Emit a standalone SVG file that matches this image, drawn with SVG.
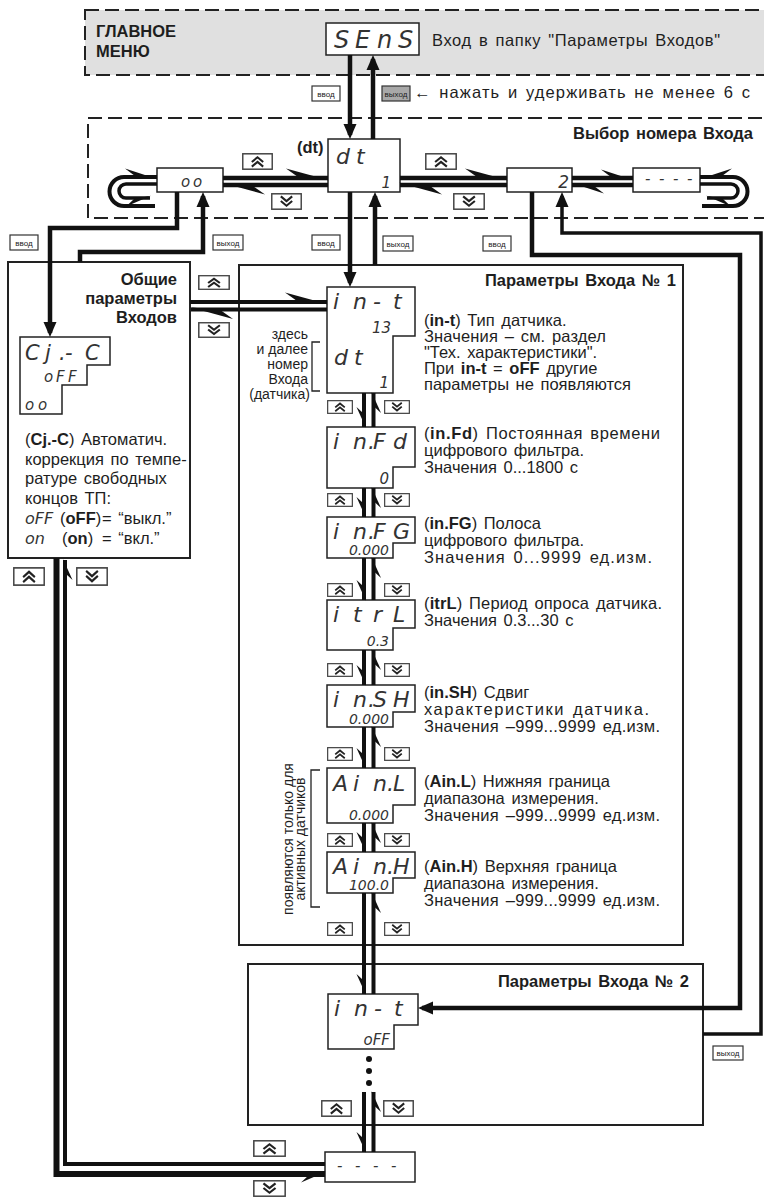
<svg xmlns="http://www.w3.org/2000/svg" width="764" height="1198" viewBox="0 0 764 1198">
<defs>
<style>
.t{font-family:"Liberation Sans",Arial,sans-serif;font-size:16.5px;word-spacing:2px;fill:#1e1e1e}
.s{font-family:"Liberation Sans",Arial,sans-serif;font-size:14px;fill:#1e1e1e}
.b{font-weight:bold}
.sg{font-family:"DejaVu Sans",sans-serif;font-style:italic;font-weight:300;fill:#333}
.frame{fill:none;stroke:#222;stroke-width:2}
.disp{fill:#fff;stroke:#222;stroke-width:1.5}
.dash{stroke:#222;stroke-width:2;stroke-dasharray:14 6}
.tk{fill:none;stroke:#111;stroke-width:4.5}
.md{fill:none;stroke:#111;stroke-width:3.5}
.hp{fill:none;stroke:#111;stroke-width:4.5}
.vl{fill:none;stroke:#111;stroke-width:4}
.key rect{fill:#fff;stroke:#333;stroke-width:1.2}
.key text{font-family:"Liberation Sans",Arial,sans-serif;font-size:8px;fill:#222;text-anchor:middle}
.br{fill:none;stroke:#222;stroke-width:1.3}
</style>
<marker id="ar" markerUnits="userSpaceOnUse" orient="auto" markerWidth="30" markerHeight="30" viewBox="-15 -15 30 30" refX="0" refY="0" overflow="visible">
<path d="M4,0 L-11,-6.5 L-11,6.5 Z" fill="#111"/>
</marker>
<marker id="hL" markerUnits="userSpaceOnUse" orient="auto" markerWidth="60" markerHeight="30" viewBox="-50 -15 60 30" refX="0" refY="0" overflow="visible">
<path d="M1,2.2 L-42,-9.5 L-30,-1 Z" fill="#111"/>
</marker>
<marker id="hLm" markerUnits="userSpaceOnUse" orient="auto" markerWidth="60" markerHeight="30" viewBox="-50 -15 60 30" refX="0" refY="0" overflow="visible">
<path d="M1,2.2 L-32,-8.5 L-22,-1 Z" fill="#111"/>
</marker>
<marker id="hRl" markerUnits="userSpaceOnUse" orient="auto" markerWidth="60" markerHeight="30" viewBox="-50 -15 60 30" refX="0" refY="0" overflow="visible">
<path d="M1,-2.2 L-24,8.5 L-16,1 Z" fill="#111"/>
</marker>
<marker id="hRs" markerUnits="userSpaceOnUse" orient="auto" markerWidth="40" markerHeight="30" viewBox="-30 -15 40 30" refX="0" refY="0" overflow="visible">
<path d="M1,-2 L-20,7.5 L-14,1 Z" fill="#111"/>
</marker>
<symbol id="bu" viewBox="0 0 30 16" preserveAspectRatio="none">
<rect x="0.75" y="0.75" width="28.5" height="14.5" fill="#fff" stroke="#444" stroke-width="1.4"/>
<path d="M9.5 8.5 L15 4 L20.5 8.5 M9.5 12.8 L15 8.3 L20.5 12.8" fill="none" stroke="#222" stroke-width="2"/>
</symbol>
<symbol id="bd" viewBox="0 0 30 16" preserveAspectRatio="none">
<rect x="0.75" y="0.75" width="28.5" height="14.5" fill="#fff" stroke="#444" stroke-width="1.4"/>
<path d="M9.5 3.2 L15 7.7 L20.5 3.2 M9.5 7.5 L15 12 L20.5 7.5" fill="none" stroke="#222" stroke-width="2"/>
</symbol>
</defs>
<rect width="764" height="1198" fill="#fff"/>

<!-- main menu band -->
<g id="main-menu">
<rect x="85" y="10" width="700" height="65" fill="#e0e0e0" class="dash"/>
<text class="t b" x="96" y="37" font-size="16">ГЛАВНОЕ</text>
<text class="t b" x="96" y="57" font-size="16">МЕНЮ</text>
</g>
<g id="node-sens">
<rect class="disp" x="326" y="23" width="93" height="32"/>
<text class="sg" x="334 355 377 398" y="48" font-size="24">SEnS</text>
<text class="t" x="432" y="46" textLength="288">Вход в папку "Параметры Входов"</text>
</g>

<!-- input selection band -->
<g id="select-band">
<rect x="88" y="118" width="700" height="100" fill="none" class="dash"/>
<text class="t b" x="753" y="139" text-anchor="end">Выбор номера Входа</text>
</g>
<g id="node-oo">
<rect class="disp" x="157" y="168" width="66" height="24"/>
<text class="sg" x="181 193" y="187" font-size="15">oo</text>
</g>
<g id="node-dt">
<text class="t b" x="297" y="153" font-size="15">(dt)</text>
<rect class="disp" x="328" y="139" width="72" height="53"/>
<text class="sg" x="336 356" y="164" font-size="22">dt</text>
<text class="sg" x="391" y="188" font-size="15" text-anchor="end">1</text>
</g>
<g id="node-2">
<rect class="disp" x="507" y="168" width="65" height="24"/>
<text class="sg" x="569" y="188" font-size="17" text-anchor="end">2</text>
</g>
<g id="node-last">
<rect class="disp" x="633" y="168" width="67" height="24"/>
<text class="sg" x="645 659 673 687" y="184" font-size="15" font-weight="bold">----</text>
</g>

<!-- common parameters -->
<g id="node-common">
<rect class="frame" x="8" y="262" width="182" height="296"/>
<text class="t b" x="177" y="285" text-anchor="end">Общие</text>
<text class="t b" x="177" y="304" text-anchor="end">параметры</text>
<text class="t b" x="177" y="323" text-anchor="end">Входов</text>
<path class="disp" d="M20 337 H110 V365 H87 V385 H62 V414 H20 Z"/>
<text class="sg" x="25 45 59 65 85" y="360" font-size="21">Cj.-C</text>
<text class="sg" x="44 56 68" y="382" font-size="15">oFF</text>
<text class="sg" x="25 38" y="410" font-size="15">oo</text>
<text class="t" x="25" y="445">(<tspan class="b">Cj.-C</tspan>) Автоматич.</text>
<text class="t" x="25" y="465">коррекция по темпе-</text>
<text class="t" x="25" y="484">ратуре свободных</text>
<text class="t" x="25" y="504">концов ТП:</text>
<text class="sg" x="25" y="524" font-size="16">oFF</text>
<text class="t" x="60" y="524">(<tspan class="b">oFF</tspan>)</text>
<text class="t" x="102" y="524">= “выкл.”</text>
<text class="sg" x="25" y="544" font-size="16">on</text>
<text class="t" x="62" y="544">(<tspan class="b">on</tspan>)</text>
<text class="t" x="102" y="544">= “вкл.”</text>
</g>

<!-- parameters of input 1 -->
<g id="group-input1">
<rect class="frame" x="239" y="265" width="444" height="680"/>
<text class="t b" x="676" y="286" text-anchor="end">Параметры Входа № 1</text>
<path class="br" d="M320 342 H312 V391 H320"/>
<text class="s" x="308" y="339" text-anchor="end">здесь</text>
<text class="s" x="308" y="354" text-anchor="end">и далее</text>
<text class="s" x="308" y="369" text-anchor="end">номер</text>
<text class="s" x="308" y="384" text-anchor="end">Входа</text>
<text class="s" x="310" y="399" text-anchor="end">(датчика)</text>
<path class="br" d="M320 770 H311 V907 H320"/>
<text class="s" font-size="11.5" transform="translate(293 839) rotate(-90)" text-anchor="middle">появляются только для</text>
<text class="s" font-size="11.5" transform="translate(305 839) rotate(-90)" text-anchor="middle">активных датчиков</text>
</g>
<g id="node-in-t-1">
<path class="disp" d="M327 287 H415 V336 H393 V393 H327 Z"/>
<text class="sg" x="333 353 373 393" y="309" font-size="22">in-t</text>
<text class="sg" x="391" y="333" font-size="15" text-anchor="end">13</text>
<text class="sg" x="334 354" y="365" font-size="22">dt</text>
<text class="sg" x="389" y="388" font-size="15" text-anchor="end">1</text>
<text class="t" x="424" y="326">(<tspan class="b">in-t</tspan>) Тип датчика.</text>
<text class="t" x="424" y="342" textLength="182">Значения – см. раздел</text>
<text class="t" x="424" y="358">"Тех. характеристики".</text>
<text class="t" x="424" y="374">При <tspan class="b">in-t</tspan> = <tspan class="b">oFF</tspan> другие</text>
<text class="t" x="424" y="390">параметры не появляются</text>
</g>
<g id="node-in-fd">
<path class="disp" d="M327 427 H415 V467 H393 V488 H327 Z"/>
<text class="sg" x="333 353 368 373 393" y="449" font-size="22">in.Fd</text>
<text class="sg" x="389" y="484" font-size="15" text-anchor="end">0</text>
<text class="t" x="424" y="439" textLength="236">(<tspan class="b">in.Fd</tspan>) Постоянная времени</text>
<text class="t" x="424" y="456">цифрового фильтра.</text>
<text class="t" x="424" y="473">Значения 0...1800 с</text>
</g>
<g id="node-in-fg">
<path class="disp" d="M327 517 H415 V543 H393 V558 H327 Z"/>
<text class="sg" x="333 353 368 373 393" y="539" font-size="22">in.FG</text>
<text class="sg" x="389" y="555" font-size="14" text-anchor="end">0.000</text>
<text class="t" x="424" y="529">(<tspan class="b">in.FG</tspan>) Полоса</text>
<text class="t" x="424" y="546">цифрового фильтра.</text>
<text class="t" x="424" y="563" textLength="228">Значения 0...9999 ед.изм.</text>
</g>
<g id="node-itrl">
<path class="disp" d="M327 600 H415 V628 H393 V650 H327 Z"/>
<text class="sg" x="333 353 373 393" y="622" font-size="22">itrL</text>
<text class="sg" x="389" y="646" font-size="14" text-anchor="end">0.3</text>
<text class="t" x="424" y="609" textLength="238">(<tspan class="b">itrL</tspan>) Период опроса датчика.</text>
<text class="t" x="424" y="626">Значения 0.3...30 с</text>
</g>
<g id="node-in-sh">
<path class="disp" d="M327 685 H415 V712 H393 V727 H327 Z"/>
<text class="sg" x="333 353 368 373 393" y="707" font-size="22">in.SH</text>
<text class="sg" x="389" y="724" font-size="14" text-anchor="end">0.000</text>
<text class="t" x="424" y="698">(<tspan class="b">in.SH</tspan>) Сдвиг</text>
<text class="t" x="424" y="715" textLength="225">характеристики датчика.</text>
<text class="t" x="424" y="732" textLength="236">Значения –999...9999 ед.изм.</text>
</g>
<g id="node-ain-l">
<path class="disp" d="M327 768 H415 V805 H393 V823 H327 Z"/>
<text class="sg" x="333 353 373 387 393" y="791" font-size="22">Ain.L</text>
<text class="sg" x="389" y="820" font-size="14" text-anchor="end">0.000</text>
<text class="t" x="424" y="787">(<tspan class="b">Ain.L</tspan>) Нижняя граница</text>
<text class="t" x="424" y="804">диапазона измерения.</text>
<text class="t" x="424" y="821" textLength="236">Значения –999...9999 ед.изм.</text>
</g>
<g id="node-ain-h">
<path class="disp" d="M327 852 H415 V878 H393 V893 H327 Z"/>
<text class="sg" x="333 353 373 387 393" y="874" font-size="22">Ain.H</text>
<text class="sg" x="389" y="890" font-size="14" text-anchor="end">100.0</text>
<text class="t" x="424" y="872">(<tspan class="b">Ain.H</tspan>) Верхняя граница</text>
<text class="t" x="424" y="889">диапазона измерения.</text>
<text class="t" x="424" y="906" textLength="236">Значения –999...9999 ед.изм.</text>
</g>

<!-- parameters of input 2 -->
<g id="group-input2">
<rect class="frame" x="248" y="964" width="455" height="161"/>
<text class="t b" x="689" y="987" text-anchor="end">Параметры Входа № 2</text>
<circle cx="369" cy="1059" r="3" fill="#111"/>
<circle cx="369" cy="1071" r="3" fill="#111"/>
<circle cx="369" cy="1083" r="3" fill="#111"/>
</g>
<g id="node-in-t-2">
<path class="disp" d="M328 994 H418 V1025 H394 V1049 H328 Z"/>
<text class="sg" x="334 354 374 394" y="1016" font-size="22">in-t</text>
<text class="sg" x="390" y="1045" font-size="15" text-anchor="end">oFF</text>
</g>
<g id="node-end">
<rect class="disp" x="325" y="1152" width="90" height="30"/>
<text class="sg" x="337 355 373 391" y="1171" font-size="15" font-weight="bold">----</text>
</g>

<!-- buttons -->
<g id="buttons">
<use href="#bu" x="242" y="153" width="31" height="17"/>
<use href="#bd" x="271" y="193" width="31" height="17"/>
<use href="#bu" x="425" y="153" width="32" height="17"/>
<use href="#bd" x="453" y="193" width="32" height="17"/>
<use href="#bu" x="198" y="275" width="32" height="15"/>
<use href="#bd" x="198" y="322" width="32" height="16"/>
<use href="#bu" x="13" y="567" width="32" height="19"/>
<use href="#bd" x="76" y="567" width="32" height="19"/>
<use href="#bu" x="327" y="400" width="26" height="14"/>
<use href="#bd" x="384" y="400" width="26" height="14"/>
<use href="#bu" x="327" y="493" width="26" height="14"/>
<use href="#bd" x="384" y="493" width="26" height="14"/>
<use href="#bu" x="327" y="583" width="26" height="14"/>
<use href="#bd" x="384" y="583" width="26" height="14"/>
<use href="#bu" x="327" y="663" width="26" height="14"/>
<use href="#bd" x="384" y="663" width="26" height="14"/>
<use href="#bu" x="327" y="747" width="26" height="14"/>
<use href="#bd" x="384" y="747" width="26" height="14"/>
<use href="#bu" x="327" y="833" width="26" height="14"/>
<use href="#bd" x="384" y="833" width="26" height="14"/>
<use href="#bu" x="327" y="922" width="26" height="14"/>
<use href="#bd" x="384" y="922" width="26" height="14"/>
<use href="#bu" x="321" y="1100" width="31" height="17"/>
<use href="#bd" x="383" y="1100" width="31" height="17"/>
<use href="#bu" x="253" y="1140" width="33" height="17"/>
<use href="#bd" x="253" y="1180" width="33" height="17"/>
</g>

<!-- key labels -->
<g id="keys" class="key">
<rect x="312" y="86" width="28" height="15"/><text x="326" y="96.5">ввод</text>
<rect x="382" y="86" width="28" height="15" style="fill:#a8a8a8"/><text x="396" y="96.5">выход</text>
<rect x="10" y="235" width="28" height="15"/><text x="24" y="245.5">ввод</text>
<rect x="213" y="235" width="30" height="15"/><text x="228" y="245.5">выход</text>
<rect x="312" y="235" width="28" height="15"/><text x="326" y="245.5">ввод</text>
<rect x="383" y="236" width="30" height="15"/><text x="398" y="246.5">выход</text>
<rect x="483" y="236" width="28" height="15"/><text x="497" y="246.5">ввод</text>
<rect x="713" y="1046" width="30" height="14"/><text x="728" y="1056">выход</text>
</g>
<text class="t" x="414" y="98" textLength="336">← нажать и удерживать не менее 6 с</text>

<!-- connectors -->
<g id="connectors">
<path class="tk" d="M350 55 V135" marker-end="url(#ar)"/>
<path class="tk" d="M373 139 V59" marker-end="url(#ar)"/>
<path class="tk" d="M350 192 V283" marker-end="url(#ar)"/>
<path class="tk" d="M375 265 V196" marker-end="url(#ar)"/>
<path class="tk" d="M177 192 V228 H50 V333" marker-end="url(#ar)"/>
<path class="tk" d="M80 262 V252 H203 V196" marker-end="url(#ar)"/>
<path class="tk" d="M532 192 V255 H740 V1008 H422" marker-end="url(#ar)"/>
<path class="md" d="M703 1034 H761 V233 H562 V196" marker-end="url(#ar)"/>

<path class="hp" d="M223 178 H328" marker-end="url(#hL)"/>
<path class="hp" d="M328 185 H223" marker-end="url(#hL)"/>
<path class="hp" d="M400 178 H507" marker-end="url(#hL)"/>
<path class="hp" d="M507 185 H400" marker-end="url(#hL)"/>
<path class="hp" d="M572 178 H633" marker-end="url(#hLm)"/>
<path class="hp" d="M633 185 H572" marker-end="url(#hLm)"/>

<g id="loop-left">
<path class="vl" d="M155 206 H124 A14.5 14.5 0 0 1 124 177 H157" marker-end="url(#hLm)"/>
<path class="md" d="M157 184 H126 A7 7 0 0 0 126 198 H150" marker-end="url(#hRl)"/>
</g>
<g id="loop-right" transform="translate(857 0) scale(-1 1)">
<path class="vl" d="M155 206 H124 A14.5 14.5 0 0 1 124 177 H157" marker-end="url(#hLm)"/>
<path class="md" d="M157 184 H126 A7 7 0 0 0 126 198 H150" marker-end="url(#hRl)"/>
</g>

<path class="vl" d="M190 302 H327" marker-end="url(#hL)"/>
<path class="vl" d="M327 309.5 H191" marker-end="url(#hL)"/>

<path fill="none" stroke="#111" stroke-width="6" d="M56.5 558 V1174 H325" marker-end="url(#hRl)"/>
<path class="vl" stroke-width="4.5" d="M325 1164 H65 V560" marker-end="url(#hRs)"/>

<path class="vl" d="M364 393 V427" marker-end="url(#hRs)"/>
<path class="vl" d="M373.5 427 V393" marker-end="url(#hRs)"/>
<path class="vl" d="M364 488 V517" marker-end="url(#hRs)"/>
<path class="vl" d="M373.5 517 V488" marker-end="url(#hRs)"/>
<path class="vl" d="M364 558 V600" marker-end="url(#hRs)"/>
<path class="vl" d="M373.5 600 V558" marker-end="url(#hRs)"/>
<path class="vl" d="M364 650 V685" marker-end="url(#hRs)"/>
<path class="vl" d="M373.5 685 V650" marker-end="url(#hRs)"/>
<path class="vl" d="M364 727 V768" marker-end="url(#hRs)"/>
<path class="vl" d="M373.5 768 V727" marker-end="url(#hRs)"/>
<path class="vl" d="M364 823 V852" marker-end="url(#hRs)"/>
<path class="vl" d="M373.5 852 V823" marker-end="url(#hRs)"/>
<path class="vl" d="M364 893 V994" marker-end="url(#hRs)"/>
<path class="vl" d="M373.5 994 V893" marker-end="url(#hRs)"/>
<path class="vl" d="M364 1092 V1152" marker-end="url(#hRs)"/>
<path class="vl" d="M373.5 1152 V1092" marker-end="url(#hRs)"/>
</g>
</svg>
